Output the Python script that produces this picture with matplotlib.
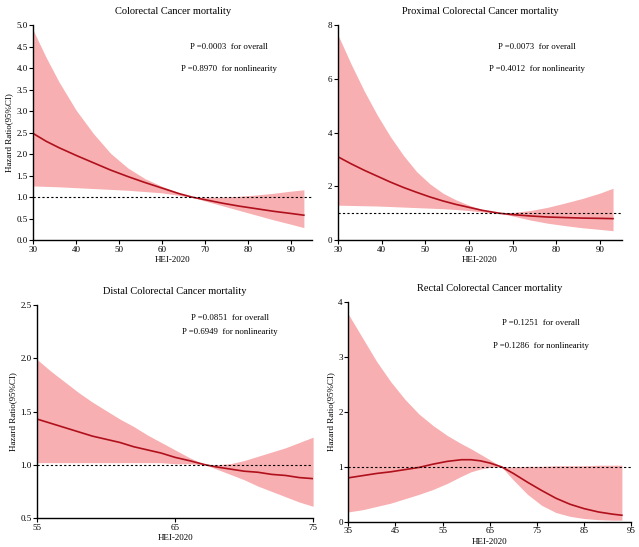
"""Restricted cubic spline plots of HEI-2020 vs colorectal cancer mortality."""
import matplotlib

matplotlib.use("Agg")
import matplotlib.pyplot as plt

plt.rcParams["font.family"] = ["Liberation Serif", "DejaVu Serif"]

# Colorectal cancer mortality
crc_x = [30, 33, 36, 40, 44, 48, 52, 56, 60, 64, 67, 70, 74, 78, 82, 86, 90, 93]
crc_hr = [2.48, 2.30, 2.15, 1.97, 1.80, 1.63, 1.48, 1.34, 1.21, 1.08, 1.00, 0.94, 0.86, 0.79, 0.73, 0.67, 0.62, 0.58]
crc_hi = [4.88, 4.25, 3.68, 3.02, 2.48, 2.02, 1.68, 1.43, 1.25, 1.10, 1.00, 1.00, 1.00, 1.02, 1.05, 1.09, 1.14, 1.17]
crc_lo = [1.26, 1.25, 1.24, 1.22, 1.20, 1.18, 1.16, 1.13, 1.10, 1.04, 1.00, 0.91, 0.80, 0.69, 0.58, 0.47, 0.37, 0.29]

# Proximal colorectal cancer mortality
prox_x = [30, 33, 36, 39, 42, 45, 48, 51, 54, 57, 60, 63, 67, 70, 74, 78, 82, 86, 90, 93]
prox_hr = [3.10, 2.84, 2.60, 2.38, 2.16, 1.96, 1.78, 1.61, 1.46, 1.33, 1.22, 1.11, 1.00, 0.95, 0.90, 0.86, 0.84, 0.82, 0.81, 0.80]
prox_hi = [7.63, 6.55, 5.55, 4.65, 3.85, 3.15, 2.55, 2.10, 1.75, 1.50, 1.30, 1.14, 1.00, 1.03, 1.10, 1.22, 1.38, 1.55, 1.75, 1.93]
prox_lo = [1.30, 1.29, 1.28, 1.27, 1.25, 1.23, 1.21, 1.19, 1.17, 1.14, 1.10, 1.05, 1.00, 0.90, 0.75, 0.63, 0.54, 0.46, 0.40, 0.35]

# Distal colorectal cancer mortality
dist_x = [55, 56, 57, 58, 59, 60, 61, 62, 63, 64, 65, 66, 67.2, 68, 69, 70, 71, 72, 73, 74, 75]
dist_hr = [1.43, 1.39, 1.35, 1.31, 1.27, 1.24, 1.21, 1.17, 1.14, 1.11, 1.07, 1.04, 1.00, 0.98, 0.96, 0.94, 0.93, 0.91, 0.90, 0.88, 0.87]
dist_hi = [1.99, 1.88, 1.78, 1.68, 1.59, 1.51, 1.43, 1.36, 1.28, 1.21, 1.14, 1.07, 1.00, 1.00, 1.01, 1.04, 1.08, 1.12, 1.16, 1.21, 1.26]
dist_lo = [1.02, 1.02, 1.02, 1.02, 1.02, 1.02, 1.02, 1.02, 1.02, 1.02, 1.01, 1.01, 1.00, 0.96, 0.91, 0.86, 0.80, 0.75, 0.70, 0.65, 0.61]

# Rectal colorectal cancer mortality
rect_x = [35, 38, 41, 44, 47, 50, 53, 56, 59, 61, 63, 65, 67.5, 70, 73, 76, 79, 82, 85, 88, 91, 93]
rect_hr = [0.80, 0.84, 0.88, 0.91, 0.95, 0.99, 1.05, 1.10, 1.13, 1.13, 1.11, 1.07, 1.00, 0.88, 0.72, 0.57, 0.43, 0.32, 0.24, 0.18, 0.14, 0.12]
rect_hi = [3.78, 3.35, 2.92, 2.55, 2.23, 1.96, 1.75, 1.57, 1.42, 1.33, 1.23, 1.13, 1.00, 1.00, 1.01, 1.01, 1.02, 1.02, 1.02, 1.03, 1.03, 1.03]
rect_lo = [0.18, 0.22, 0.28, 0.34, 0.42, 0.50, 0.59, 0.70, 0.83, 0.91, 0.96, 0.99, 1.00, 0.76, 0.50, 0.30, 0.17, 0.10, 0.06, 0.04, 0.03, 0.03]

panels = [
    dict(title="Colorectal Cancer mortality", x=crc_x, hr=crc_hr, hi=crc_hi, lo=crc_lo,
         xlim=(30, 95), xticks=[30, 40, 50, 60, 70, 80, 90], ylim=(0, 5),
         yticks=[0, 0.5, 1.0, 1.5, 2.0, 2.5, 3.0, 3.5, 4.0, 4.5, 5.0], yfmt="{:.1f}",
         p1="P =0.0003  for overall", p2="P =0.8970  for nonlinearity",
         pos=[0.052, 0.561, 0.437, 0.393], ptxt=(0.70, 0.90, 0.795), ylabel=True),
    dict(title="Proximal Colorectal Cancer mortality", x=prox_x, hr=prox_hr, hi=prox_hi, lo=prox_lo,
         xlim=(30, 95), xticks=[30, 40, 50, 60, 70, 80, 90], ylim=(0, 8),
         yticks=[0, 2, 4, 6, 8], yfmt="{:.0f}",
         p1="P =0.0073  for overall", p2="P =0.4012  for nonlinearity",
         pos=[0.529, 0.561, 0.444, 0.393], ptxt=(0.70, 0.90, 0.795), ylabel=False),
    dict(title="Distal Colorectal Cancer mortality", x=dist_x, hr=dist_hr, hi=dist_hi, lo=dist_lo,
         xlim=(55, 75), xticks=[55, 65, 75], ylim=(0.5, 2.5),
         yticks=[0.5, 1.0, 1.5, 2.0, 2.5], yfmt="{:.1f}",
         p1="P =0.0851  for overall", p2="P =0.6949  for nonlinearity",
         pos=[0.058, 0.053, 0.432, 0.389], ptxt=(0.70, 0.94, 0.875), ylabel=True),
    dict(title="Rectal Colorectal Cancer mortality", x=rect_x, hr=rect_hr, hi=rect_hi, lo=rect_lo,
         xlim=(35, 95), xticks=[35, 45, 55, 65, 75, 85, 95], ylim=(0, 4),
         yticks=[0, 1, 2, 3, 4], yfmt="{:.0f}",
         p1="P =0.1251  for overall", p2="P =0.1286  for nonlinearity",
         pos=[0.545, 0.046, 0.443, 0.402], ptxt=(0.68, 0.905, 0.80), ylabel=True),
]

fig = plt.figure(figsize=(6.39, 5.47), dpi=100)

for p in panels:
    ax = fig.add_axes(p["pos"])
    ax.fill_between(p["x"], p["lo"], p["hi"], color="#f7afb1", linewidth=0)
    ax.plot(p["x"], p["hr"], color="#b0101c", linewidth=1.2)
    ax.axhline(1.0, color="black", linestyle=(0, (2, 2)), linewidth=0.8)
    ax.set_xlim(*p["xlim"])
    ax.set_ylim(*p["ylim"])
    ax.set_xticks(p["xticks"])
    ax.set_yticks(p["yticks"])
    ax.set_yticklabels([p["yfmt"].format(v) for v in p["yticks"]])
    for side in ("top", "right"):
        ax.spines[side].set_visible(False)
    for side in ("left", "bottom"):
        ax.spines[side].set_linewidth(1.0)
    ax.tick_params(labelsize=6.5, length=3, width=0.8, pad=1)
    ax.set_xlabel("HEI-2020", fontsize=6.5, labelpad=2)
    if p["ylabel"]:
        ax.set_ylabel("Hazard Ratio(95%CI)", fontsize=6.5, labelpad=2)
    ax.set_title(p["title"], fontsize=7.5, pad=8)
    tx, ty1, ty2 = p["ptxt"]
    ax.text(tx, ty1, p["p1"], transform=ax.transAxes, ha="center", va="center", fontsize=6.3)
    ax.text(tx, ty2, p["p2"], transform=ax.transAxes, ha="center", va="center", fontsize=6.3)

fig.savefig("out.png", dpi=100)
plt.close(fig)
